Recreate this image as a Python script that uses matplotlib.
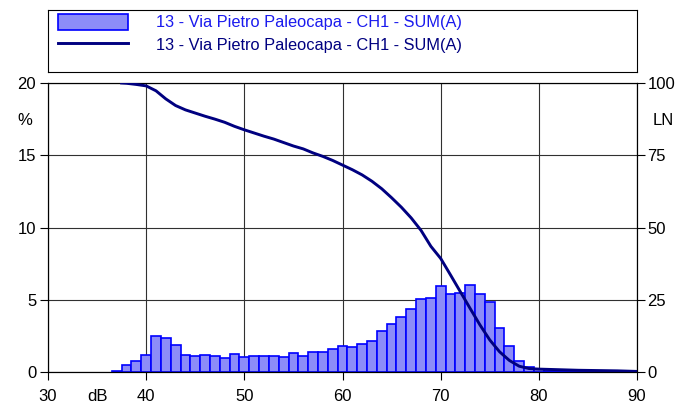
import matplotlib.pyplot as plt

plt.rcParams['font.family'] = ['Liberation Sans', 'DejaVu Sans']

# Level distribution (% of time per 1 dB class)
levels_db = list(range(37, 91))
percent = [0.05, 0.5, 0.75, 1.17, 2.49, 2.38, 1.89, 1.18, 1.08, 1.2,
           1.13, 0.97, 1.25, 1.06, 1.08, 1.08, 1.13, 1.01, 1.29, 1.08,
           1.41, 1.38, 1.59, 1.78, 1.73, 1.96, 2.15, 2.86, 3.34, 3.78,
           4.38, 5.03, 5.10, 5.97, 5.40, 5.44, 6.0, 5.40, 4.87, 3.04,
           1.82, 0.76, 0.33, 0.2, 0.1, 0.08, 0.06, 0.05, 0.04, 0.03,
           0.03, 0.02, 0.02, 0.0]

# Cumulative curve LN (% of time level is exceeded)
ln_db = [37.5, 38, 39, 40, 41, 42, 43, 44, 45, 46, 47, 48, 49, 50, 51, 52,
         53, 54, 55, 56, 57, 58, 59, 60, 61, 62, 63, 64, 65, 66, 67, 68, 69,
         70, 71, 72, 73, 74, 75, 76, 77, 78, 79, 80, 82, 84, 86, 88, 90]
ln_val = [100, 99.9, 99.5, 99.0, 97.3, 94.5, 92.2, 90.7, 89.6, 88.5, 87.5,
          86.4, 85.0, 83.8, 82.7, 81.6, 80.6, 79.4, 78.2, 77.2, 75.8, 74.6,
          73.2, 71.6, 70.0, 68.2, 66.0, 63.4, 60.3, 57.0, 53.3, 49.0, 43.5,
          39.3, 33.6, 27.8, 22.0, 16.3, 11.1, 7.0, 4.0, 2.0, 1.2, 1.0, 0.8,
          0.6, 0.5, 0.4, 0.2]

label = "13 - Via Pietro Paleocapa - CH1 - SUM(A)"

fig = plt.figure(figsize=(6.95, 4.05), dpi=100)
ax = fig.add_axes([48/695, 1 - 372/405, 589/695, 289/405])

bars = ax.bar(levels_db, percent, width=1.0, color='#8c8cf8',
              edgecolor='#0000ff', linewidth=1.2, zorder=2)

ax.set_xlim(30, 90)
ax.set_ylim(0, 20)
ax.set_xticks(range(30, 91, 10))
ax.set_yticks(range(0, 21, 5))
ax.grid(True, color='#303030', linewidth=0.8, zorder=0)
ax.set_axisbelow(True)
for s in ax.spines.values():
    s.set_color('black')
    s.set_linewidth(0.8)
ax.tick_params(direction='out', length=6, width=0.8, labelsize=12,
               colors='black')
ax.tick_params(axis='x', pad=6)
ax.tick_params(axis='y', pad=2.5)

ax2 = ax.twinx()
line, = ax2.plot(ln_db, ln_val, color='#000080', linewidth=2.1, zorder=3)
ax2.set_ylim(0, 100)
ax2.set_yticks(range(0, 101, 25))
ax2.tick_params(direction='out', length=6, width=0.8, labelsize=12, pad=1.5)
for s in ax2.spines.values():
    s.set_linewidth(0.8)

ax.text(-0.039, 0.87, '%', transform=ax.transAxes, ha='center',
        va='center', fontsize=12)
ax2.text(1.044, 0.87, 'LN', transform=ax2.transAxes, ha='center',
         va='center', fontsize=12)
ax.annotate('dB', xy=(35, 0), xycoords=('data', 'axes fraction'),
            xytext=(0, -12), textcoords='offset points', ha='center',
            va='top', fontsize=12)

# legend box
lax = fig.add_axes([48/695, 1 - 72/405, 589/695, 62/405])
lax.set_xticks([])
lax.set_yticks([])
for s in lax.spines.values():
    s.set_color('black')
    s.set_linewidth(0.8)
lax.legend([bars, line], [label, label], loc='upper left',
           bbox_to_anchor=(0.017, 0.935), borderaxespad=0, borderpad=0,
           frameon=False, fontsize=11.8,
           handlelength=4.3, handleheight=1.1, handletextpad=1.7,
           labelspacing=0.35, labelcolor=['#1a1aee', '#000080'])

fig.savefig('out.png', dpi=100)
